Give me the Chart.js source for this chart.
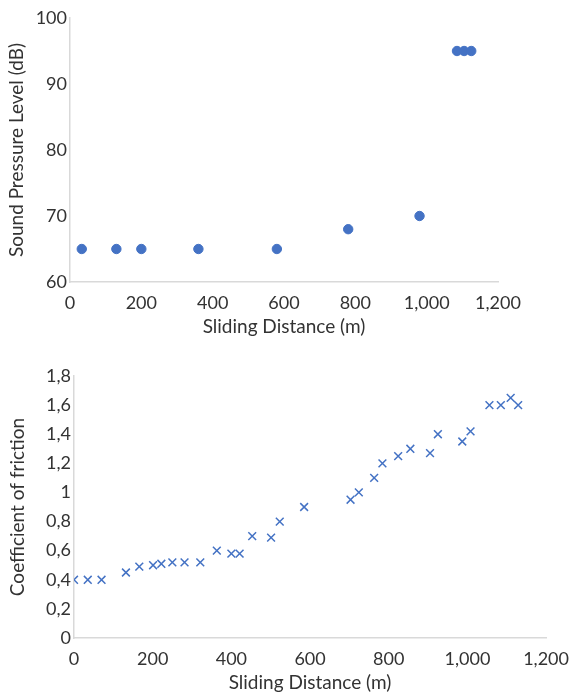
<!DOCTYPE html>
<html>
<head>
<meta charset="utf-8">
<script src="https://cdn.jsdelivr.net/npm/chart.js@4"></script>
<style>
  body { margin: 0; background: #fff; }
  canvas { display: block; }
</style>
</head>
<body>
<canvas id="splChart" width="579" height="345"></canvas>
<canvas id="frictionChart" width="579" height="351"></canvas>
<script>
// sound pressure level vs sliding distance
const splDistance = [33, 130, 200, 360, 580, 780, 980, 1085, 1105, 1125];
const splValues   = [65, 65, 65, 65, 65, 68, 70, 95, 95, 95];

// coefficient of friction vs sliding distance
const cofDistance = [0, 35, 70, 132, 166, 201, 222, 250, 281, 321, 363, 400, 421, 453, 501, 523,
                     585, 703, 724, 763, 784, 824, 855, 905, 925, 987, 1008, 1056, 1085, 1110, 1129];
const cofValues   = [0.40, 0.40, 0.40, 0.45, 0.49, 0.50, 0.51, 0.52, 0.52, 0.52, 0.60, 0.58, 0.58, 0.70, 0.69, 0.80,
                     0.90, 0.95, 1.00, 1.10, 1.20, 1.25, 1.30, 1.27, 1.40, 1.35, 1.42, 1.60, 1.60, 1.65, 1.60];

const cofTickLabels = ['0', '0,2', '0,4', '0,6', '0,8', '1', '1,2', '1,4', '1,6', '1,8'];

const blue = '#4472C4';
const axisGrey = '#d9d9d9';
const textCol = '#333333';
const tickFont = { family: 'Lato, "Open Sans", sans-serif', size: 18 };
const titleFont = { family: 'Lato, "Open Sans", sans-serif', size: 19 };

function toPoints(xs, ys) {
  return xs.map((x, i) => ({ x: x, y: ys[i] }));
}

function makeScales(opt) {
  return {
    x: {
      type: 'linear', min: 0, max: 1200,
      ticks: { stepSize: 200, color: textCol, font: tickFont, padding: 10, maxRotation: 0 },
      grid: { drawOnChartArea: false, drawTicks: false },
      border: { color: axisGrey, width: 1.5 },
      title: { display: true, text: 'Sliding Distance (m)', color: textCol, font: titleFont,
               padding: { top: 0, bottom: opt.xTitlePad } },
      afterFit: s => { s.height = opt.xHeight; }
    },
    y: {
      type: 'linear', min: opt.yMin, max: opt.yMax,
      ticks: { stepSize: opt.yStep, color: textCol, font: tickFont, padding: 3,
               callback: opt.yCallback },
      grid: { drawOnChartArea: false, drawTicks: false },
      border: { color: axisGrey, width: 1.5 },
      title: { display: true, text: opt.yTitle, color: textCol, font: titleFont,
               padding: { top: opt.yTitlePad, bottom: 0 } },
      afterFit: s => { s.width = opt.yWidth; }
    }
  };
}

new Chart(document.getElementById('splChart'), {
  type: 'scatter',
  data: {
    datasets: [{
      data: toPoints(splDistance, splValues),
      backgroundColor: blue,
      borderColor: blue,
      pointRadius: 4.7,
      pointStyle: 'circle'
    }]
  },
  options: {
    responsive: false,
    animation: false,
    layout: { padding: { top: 18, right: 81, bottom: 0, left: 0 } },
    plugins: { legend: { display: false }, tooltip: { enabled: false } },
    scales: makeScales({
      yMin: 60, yMax: 100, yStep: 10,
      yTitle: 'Sound Pressure Level (dB)',
      yWidth: 70, xHeight: 63, xTitlePad: 6.5, yTitlePad: 5
    })
  }
});

new Chart(document.getElementById('frictionChart'), {
  type: 'scatter',
  data: {
    datasets: [{
      data: toPoints(cofDistance, cofValues),
      backgroundColor: blue,
      borderColor: blue,
      borderWidth: 1.5,
      pointRadius: 5.5,
      pointStyle: 'crossRot'
    }]
  },
  options: {
    responsive: false,
    animation: false,
    layout: { padding: { top: 31, right: 27, bottom: 0, left: 0 } },
    plugins: { legend: { display: false }, tooltip: { enabled: false } },
    scales: makeScales({
      yMin: 0, yMax: 1.8, yStep: 0.2,
      yCallback: (v, i) => cofTickLabels[i],
      yTitle: 'Coefficient of friction',
      yWidth: 74, xHeight: 58, xTitlePad: 1.5, yTitlePad: 6
    })
  }
});
</script>
</body>
</html>
